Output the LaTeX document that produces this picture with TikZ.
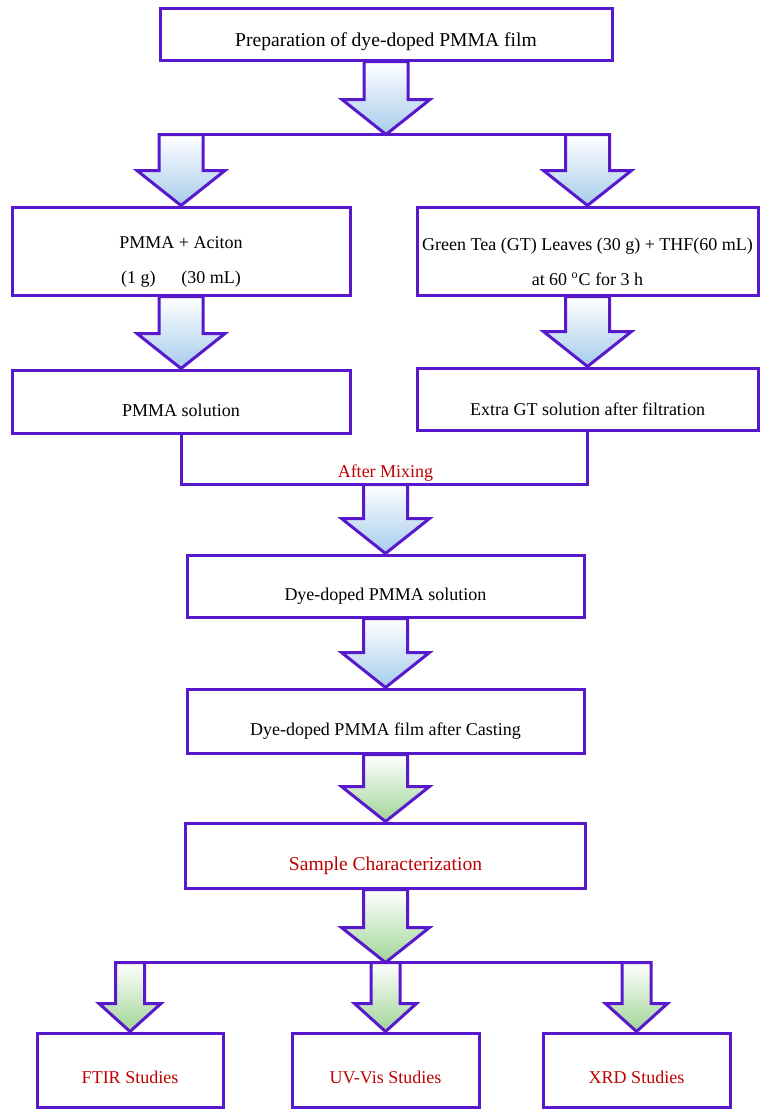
\documentclass[tikz,border=0pt]{standalone}
\usepackage{fontspec}
\setmainfont{Liberation Serif}
\usepackage{tikz}
\usetikzlibrary{positioning}
\usetikzlibrary{calc}
\definecolor{boxpurple}{RGB}{88,24,204}
\definecolor{labelred}{RGB}{192,0,0}
\definecolor{arrowblue}{RGB}{166,204,236}
\definecolor{arrowgreen}{RGB}{160,213,150}
\tikzset{flowbox/.style={
          draw=boxpurple, line width=1.5pt, inner sep=0pt, fill=white
          },
        boxtext/.style={font=\fontsize{9}{17.5}\selectfont, align=center, yshift=-5pt},
        titletext/.style={boxtext, font=\fontsize{9.8}{12}\selectfont},
        redlabel/.style={font=\fontsize{9}{11}\selectfont, text=labelred, inner sep=0pt},
        redtext/.style={titletext, text=labelred},
        smalltext/.style={redlabel, yshift=-3.5pt},
        flowline/.style={draw=boxpurple, line width=1.5pt},
        bluefill/.style={top color=white, bottom color=arrowblue},
        greenfill/.style={top color=white, bottom color=arrowgreen},
}
% fat arrow: fill, from, to, shaft half width, head half width, head length
\newcommand{\fatarrow}[6]{%
  \draw[flowline, #1, line join=miter]
    ($(#2)+(-#4,0)$) -- ($(#3)+(-#4,#6)$) -- ($(#3)+(-#5,#6)$) -- (#3)
    -- ($(#3)+(#5,#6)$) -- ($(#3)+(#4,#6)$) -- ($(#2)+(#4,0)$) -- cycle;
}

\begin{document}
\begin{tikzpicture}[x=0.5pt, y=-0.5pt]
  \useasboundingbox (0,0) rectangle (765,1116);
  % PREPARATION
  \node[flowbox, minimum width=226pt, minimum height=26pt,
        label={[titletext, yshift=1pt]center:Preparation of dye-doped PMMA film}] (prep) at (386,34) {};
  \coordinate (split) at ($(prep.south)+(0,-36.5pt)$);

  % TWO BRANCHES
  \node[flowbox, minimum width=169pt, minimum height=44pt,
        label={[boxtext, yshift=-0.5pt]center:PMMA + Aciton\\(1 g)\hspace{13pt}(30 mL)}] (pmma) at (181,251) {};
  \node[flowbox, minimum width=170.5pt, minimum height=44pt,
        label={[boxtext, yshift=-0.5pt]center:Green Tea (GT) Leaves (30 g) + THF(60 mL)\\at 60 \textsuperscript{o}C for 3 h}] (gt) at (587.5,251) {};
  \node[flowbox, minimum width=169pt, minimum height=31.5pt,
        label={[boxtext, yshift=0.5pt]center:PMMA solution}] (pmmasol) at (181,401.5) {};
  \node[flowbox, minimum width=170.5pt, minimum height=31pt,
        label={[boxtext]center:Extra GT solution after filtration}] (gtsol) at (587.5,399) {};

  % MIXED
  \node[flowbox, minimum width=198.5pt, minimum height=31pt,
        label={[boxtext]center:Dye-doped PMMA solution}] (dyesol) at (385.5,586) {};
  \node[flowbox, minimum width=198.5pt, minimum height=32pt,
        label={[boxtext]center:Dye-doped PMMA film after Casting}] (film) at (385.5,721) {};
  \node[flowbox, minimum width=200pt, minimum height=32.5pt,
        label={[redtext]center:Sample Characterization}] (charac) at (385.5,855.5) {};
  \coordinate (split2) at ($(charac.south)+(0,-36.5pt)$);

  % STUDIES
  \node[flowbox, minimum width=93pt, minimum height=37pt,
        label={[smalltext]center:FTIR Studies}] (ftir) at (130,1070) {};
  \node[flowbox, minimum width=93.5pt, minimum height=37pt,
        label={[smalltext]center:UV-Vis Studies}] (uvvis) at (385.5,1070) {};
  \node[flowbox, minimum width=93.5pt, minimum height=37pt,
        label={[smalltext]center:XRD Studies}] (xrd) at (636.5,1070) {};

  % ARROWS
  % top split
  \fatarrow{bluefill}{prep.south}{split}{11pt}{22pt}{17.5pt}
  \draw[flowline] ($(pmma.north |- split)+(-11pt,0)$) -- ($(gt.north |- split)+(11pt,0)$);
  \fatarrow{bluefill}{pmma.north |- split}{pmma.north}{11pt}{22pt}{17.5pt}
  \fatarrow{bluefill}{gt.north |- split}{gt.north}{11pt}{22pt}{17.5pt}
  \fatarrow{bluefill}{pmma.south}{pmmasol.north}{11pt}{22pt}{17.5pt}
  \fatarrow{bluefill}{gt.south}{gtsol.north}{11pt}{22pt}{17.5pt}
  % mixing
  \draw[flowline] (pmmasol.south) -- ++(0,-25pt) coordinate (mixleft) -- (mixleft -| gtsol.south) -- (gtsol.south);
  \node[redlabel, above=1.5pt] (mixing) at (mixleft -| dyesol.north) {After Mixing};
  \fatarrow{bluefill}{mixleft -| dyesol.north}{dyesol.north}{11pt}{22pt}{17.5pt}
  \fatarrow{bluefill}{dyesol.south}{film.north}{11pt}{22pt}{17.5pt}
  \fatarrow{greenfill}{film.south}{charac.north}{11pt}{22pt}{17.5pt}
  \fatarrow{greenfill}{charac.south}{split2}{11pt}{22pt}{17.5pt}
  % bottom split
  \draw[flowline] ($(ftir.north |- split2)+(-7.25pt,0)$) -- ($(xrd.north |- split2)+(7.25pt,0)$);
  \foreach \study in {ftir, uvvis, xrd}
    \fatarrow{greenfill}{\study.north |- split2}{\study.north}{7.25pt}{15.5pt}{14pt};
\end{tikzpicture}
\end{document}
